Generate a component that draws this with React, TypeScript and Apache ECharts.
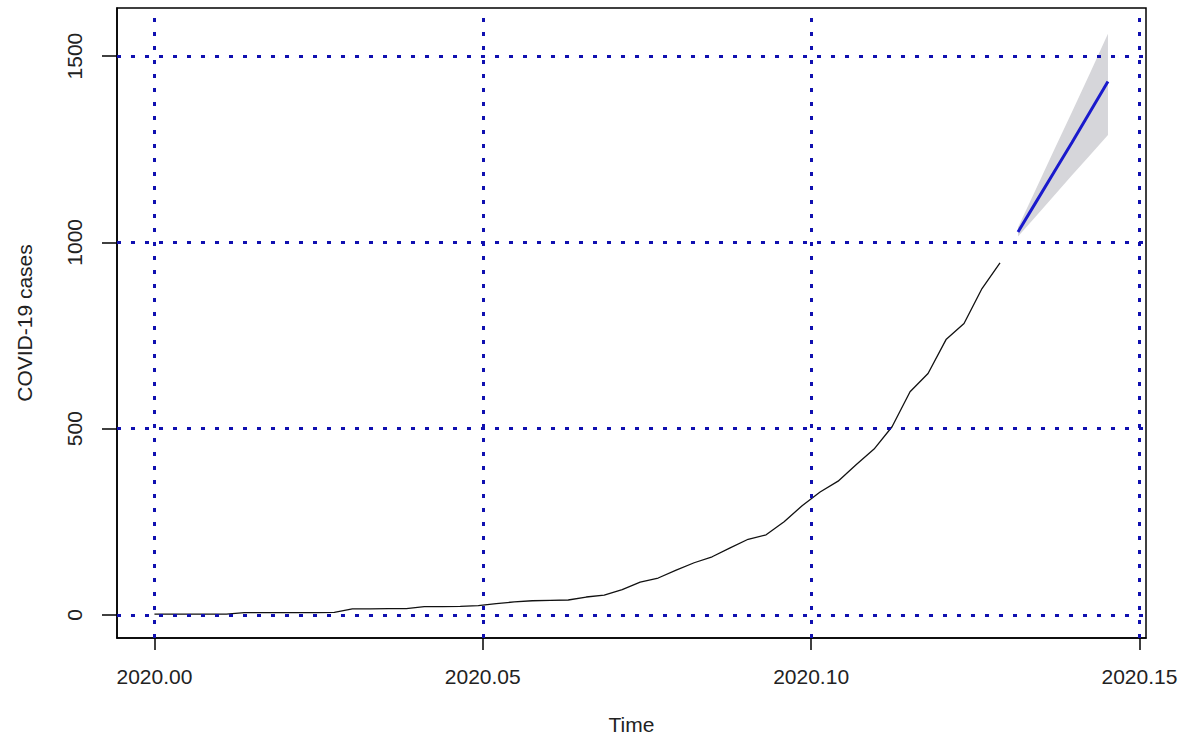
import React, { useEffect, useRef } from "react";
import * as echarts from "echarts";

// Daily time series (frequency 365) starting at 2020.00
const startTime = 2020;
const frequency = 365;

const observedCases = [
  2, 2, 2, 2, 2, 6, 6, 6, 6, 6, 7, 16, 16, 17, 17, 22, 22, 23, 25, 30, 35, 38, 39, 40,
  48, 53, 68, 88, 99, 120, 140, 156, 180, 203, 215, 250, 293, 330, 359, 403, 445, 505,
  599, 648, 739, 782, 876, 945,
];

const forecastMean = [1028, 1108, 1188, 1268, 1350, 1432];
const forecastLower = [1016, 1070, 1125, 1180, 1234, 1288];
const forecastUpper = [1040, 1143, 1247, 1350, 1454, 1560];

const xTicks = [2020.0, 2020.05, 2020.1, 2020.15];
const yTicks = [0, 500, 1000, 1500];

const FONT = "'Liberation Sans', Arial, sans-serif";
const TEXT = "#222222";
const GRID_BLUE = "#1010b0";

export default function App() {
  const ref = useRef<HTMLDivElement>(null);

  useEffect(() => {
    if (!ref.current) return;
    const chart = echarts.init(ref.current, null, { renderer: "svg" });
    const t = (i: number) => startTime + i / frequency;
    const n = observedCases.length;
    const obs = observedCases.map((v, i) => [t(i), v]);
    const fc = forecastMean.map((v, i) => [t(n + i), v]);
    const bandData = forecastUpper.map((v, i) => [t(n + i), forecastLower[i], v]);

    chart.setOption({
      animation: false,
      backgroundColor: "#ffffff",
      textStyle: { fontFamily: FONT },
      grid: {
        left: 117,
        top: 8,
        width: 1029,
        height: 630,
        show: true,
        borderColor: "#000000",
        borderWidth: 1.5,
        backgroundColor: "transparent",
        containLabel: false,
        outerBoundsMode: "none",
      },
      xAxis: {
        type: "value",
        min: 2019.9943,
        max: 2020.151,
        name: "Time",
        nameLocation: "middle",
        nameGap: 76,
        nameTextStyle: { color: TEXT, fontSize: 21, fontFamily: FONT },
        axisLine: { show: true, onZero: false, lineStyle: { color: "#000", width: 1.5 } },
        axisTick: {
          show: true,
          length: 12,
          customValues: xTicks,
          lineStyle: { color: "#000", width: 1.5 },
        },
        axisLabel: {
          show: true,
          customValues: xTicks,
          margin: 28,
          color: TEXT,
          fontSize: 21,
          fontFamily: FONT,
          formatter: (v: number) => v.toFixed(2),
        },
        splitLine: { show: false },
      },
      yAxis: {
        type: "value",
        min: -62,
        max: 1629,
        name: "COVID-19 cases",
        nameLocation: "middle",
        nameGap: 82,
        nameRotate: 90,
        nameTextStyle: { color: TEXT, fontSize: 21, fontFamily: FONT },
        axisLine: { show: true, onZero: false, lineStyle: { color: "#000", width: 1.5 } },
        axisTick: {
          show: true,
          length: 15,
          customValues: yTicks,
          lineStyle: { color: "#000", width: 1.5 },
        },
        axisLabel: {
          show: true,
          customValues: yTicks,
          rotate: 90,
          margin: 32,
          color: TEXT,
          fontSize: 21,
          fontFamily: FONT,
          formatter: (v: number) => String(Math.round(v)),
        },
        splitLine: { show: false },
      },
      series: [
        {
          name: "band",
          type: "custom",
          silent: true,
          z: 1,
          encode: { x: 0, y: [1, 2] },
          data: bandData,
          renderItem: (params: any, api: any) => {
            if (params.dataIndex !== 0) return null;
            const upperPts = bandData.map((d) => api.coord([d[0], d[2]]));
            const lowerPts = bandData
              .slice()
              .reverse()
              .map((d) => api.coord([d[0], d[1]]));
            return {
              type: "polygon",
              shape: { points: [...upperPts, ...lowerPts] },
              style: { fill: "#d6d6da", stroke: "none" },
            };
          },
        },
        {
          name: "observed",
          type: "line",
          data: obs,
          symbol: "none",
          silent: true,
          lineStyle: { color: "#111111", width: 1.3 },
          z: 3,
          markLine: {
            silent: true,
            symbol: ["none", "none"],
            label: { show: false },
            emphasis: { disabled: true },
            lineStyle: { color: GRID_BLUE, width: 3, type: [4, 10], cap: "butt" },
            data: [
              ...xTicks.map((x) => ({ xAxis: x })),
              ...yTicks.map((y) => ({ yAxis: y })),
            ],
          },
        },
        {
          name: "forecast",
          type: "line",
          data: fc,
          symbol: "none",
          silent: true,
          lineStyle: { color: "#1a1acc", width: 3 },
          z: 4,
        },
      ],
    });

    return () => chart.dispose();
  }, []);

  return (
    <div
      ref={ref}
      style={{ position: "absolute", left: 0, top: 0, width: 1184, height: 737 }}
    />
  );
}
